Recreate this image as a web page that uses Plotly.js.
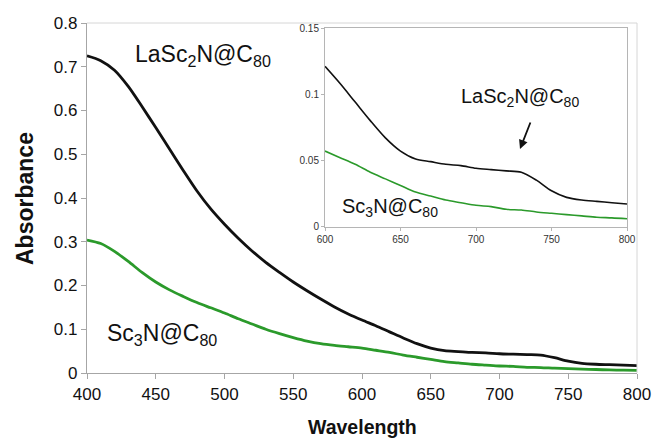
<!DOCTYPE html>
<html>
<head>
<meta charset="utf-8">
<script src="https://cdn.plot.ly/plotly-3.0.1.min.js"></script>
<style>html,body{margin:0;padding:0;background:#fff;}#chart{width:653px;height:440px;}</style>
</head>
<body>
<div id="chart"></div>
<script>
// Wavelength (nm)
const wavelength = [400,410,420,430,440,450,460,470,480,490,500,510,520,530,540,550,560,570,580,590,600,610,620,630,640,650,660,670,680,690,700,710,720,730,740,750,760,770,780,790,800];
// LaSc2N@C80 absorbance
const lasc2n = [0.725,0.714,0.692,0.655,0.609,0.561,0.512,0.463,0.416,0.375,0.340,0.308,0.279,0.253,0.230,0.208,0.188,0.169,0.151,0.135,0.121,0.108,0.094,0.080,0.067,0.057,0.051,0.049,0.047,0.046,0.044,0.043,0.042,0.041,0.035,0.027,0.022,0.020,0.019,0.018,0.017];
// Sc3N@C80 absorbance
const sc3n = [0.304,0.296,0.278,0.255,0.230,0.208,0.190,0.175,0.161,0.149,0.137,0.124,0.112,0.100,0.090,0.081,0.073,0.067,0.063,0.060,0.057,0.052,0.047,0.041,0.036,0.031,0.026,0.023,0.020,0.018,0.016,0.015,0.013,0.0125,0.011,0.010,0.009,0.008,0.007,0.0065,0.0058];
// Inset range
const insetMin = 600;
const insetWl = wavelength.filter(w => w >= insetMin);
const insetLa = lasc2n.filter((v, i) => wavelength[i] >= insetMin);
const insetSc = sc3n.filter((v, i) => wavelength[i] >= insetMin);

const mainTicksX = [400,450,500,550,600,650,700,750,800];
const mainTicksY = [0,0.1,0.2,0.3,0.4,0.5,0.6,0.7,0.8];
const insetTicksX = [600,650,700,750,800];
const insetTicksY = [0,0.05,0.1,0.15];

const FONT = 'Liberation Sans, Arial, sans-serif';
const BLACK = '#111111';
const GREEN = '#2b9a2b';

// pixel -> paper helpers (plot area 87..637 x, 23..373 y)
const L = 87, R = 637, T = 23, B = 373;
const px = x => (x - L) / (R - L);
const py = y => (B - y) / (B - T);

const traces = [
  {x: wavelength, y: lasc2n, type: 'scatter', mode: 'lines', line: {color: BLACK, width: 2.8, shape: 'spline', smoothing: 0.8}, xaxis: 'x', yaxis: 'y', hoverinfo: 'skip'},
  {x: wavelength, y: sc3n, type: 'scatter', mode: 'lines', line: {color: GREEN, width: 2.8, shape: 'spline', smoothing: 0.8}, xaxis: 'x', yaxis: 'y', hoverinfo: 'skip'},
  {x: insetWl, y: insetLa, type: 'scatter', mode: 'lines', line: {color: BLACK, width: 1.6, shape: 'spline', smoothing: 0.8}, xaxis: 'x2', yaxis: 'y2', hoverinfo: 'skip'},
  {x: insetWl, y: insetSc, type: 'scatter', mode: 'lines', line: {color: GREEN, width: 1.6, shape: 'spline', smoothing: 0.8}, xaxis: 'x2', yaxis: 'y2', hoverinfo: 'skip'}
];

const layout = {
  width: 653, height: 440,
  margin: {l: L, r: 653 - R, t: T, b: 440 - B},
  paper_bgcolor: '#fff', plot_bgcolor: 'rgba(0,0,0,0)',
  showlegend: false,
  font: {family: FONT, color: BLACK},
  xaxis: {
    domain: [0, 1], range: [400, 800], tickvals: mainTicksX, ticktext: mainTicksX.map(String),
    showgrid: false, zeroline: false, showline: true, linecolor: '#a6a6a6', linewidth: 1.2,
    ticks: 'outside', ticklen: 5, tickcolor: '#a6a6a6', tickfont: {size: 17, family: FONT, color: BLACK}
  },
  yaxis: {
    domain: [0, 1], range: [0, 0.8], tickvals: mainTicksY, ticktext: mainTicksY.map(String),
    showgrid: false, zeroline: false, showline: true, linecolor: '#a6a6a6', linewidth: 1.2,
    ticks: 'outside', ticklen: 5, tickcolor: '#a6a6a6', tickfont: {size: 17, family: FONT, color: BLACK}
  },
  xaxis2: {
    domain: [px(325), px(627)], range: [600, 800], anchor: 'y2', tickvals: insetTicksX, ticktext: insetTicksX.map(String),
    showgrid: false, zeroline: false, showline: true, mirror: true, linecolor: '#b5b5b5', linewidth: 1,
    ticks: 'outside', ticklen: 3, tickcolor: '#b5b5b5', tickfont: {size: 10, family: FONT, color: '#333'}
  },
  yaxis2: {
    domain: [py(226.5), py(28)], range: [0, 0.15], anchor: 'x2', tickvals: insetTicksY, ticktext: insetTicksY.map(String),
    showgrid: false, zeroline: false, showline: true, mirror: true, linecolor: '#b5b5b5', linewidth: 1,
    ticks: 'outside', ticklen: 3, tickcolor: '#b5b5b5', tickfont: {size: 10, family: FONT, color: '#333'}
  },
  shapes: [
    {type: 'line', xref: 'paper', yref: 'paper', x0: 0, x1: 1, y0: 1, y1: 1, line: {color: '#d6d6d6', width: 1}},
    {type: 'line', xref: 'paper', yref: 'paper', x0: 1, x1: 1, y0: 0, y1: 1, line: {color: '#d6d6d6', width: 1}}
  ],
  annotations: [
    {xref: 'paper', yref: 'paper', x: px(203), y: py(55), text: 'LaSc<sub>2</sub>N@C<sub>80</sub>', showarrow: false, xanchor: 'center', yanchor: 'middle', font: {size: 23, family: FONT, color: BLACK}},
    {xref: 'paper', yref: 'paper', x: px(162), y: py(334), text: 'Sc<sub>3</sub>N@C<sub>80</sub>', showarrow: false, xanchor: 'center', yanchor: 'middle', font: {size: 23, family: FONT, color: BLACK}},
    {xref: 'paper', yref: 'paper', x: px(520), y: py(97), text: 'LaSc<sub>2</sub>N@C<sub>80</sub>', showarrow: false, xanchor: 'center', yanchor: 'middle', font: {size: 20, family: FONT, color: BLACK}},
    {xref: 'paper', yref: 'paper', x: px(390), y: py(207), text: 'Sc<sub>3</sub>N@C<sub>80</sub>', showarrow: false, xanchor: 'center', yanchor: 'middle', font: {size: 20, family: FONT, color: BLACK}},
    {xref: 'paper', yref: 'paper', x: px(520), y: py(149), ax: 11, ay: -28, text: '', showarrow: true, arrowhead: 2, arrowsize: 1, arrowwidth: 1.8, arrowcolor: BLACK},
    {xref: 'paper', yref: 'paper', x: px(362), y: py(427), text: '<b>Wavelength</b>', showarrow: false, xanchor: 'center', yanchor: 'middle', font: {size: 19.5, family: FONT, color: BLACK}},
    {xref: 'paper', yref: 'paper', x: px(25), y: py(199), text: '<b>Absorbance</b>', textangle: -90, showarrow: false, xanchor: 'center', yanchor: 'middle', font: {size: 23, family: FONT, color: BLACK}}
  ]
};

Plotly.newPlot('chart', traces, layout, {staticPlot: true, displayModeBar: false});
</script>
</body>
</html>
